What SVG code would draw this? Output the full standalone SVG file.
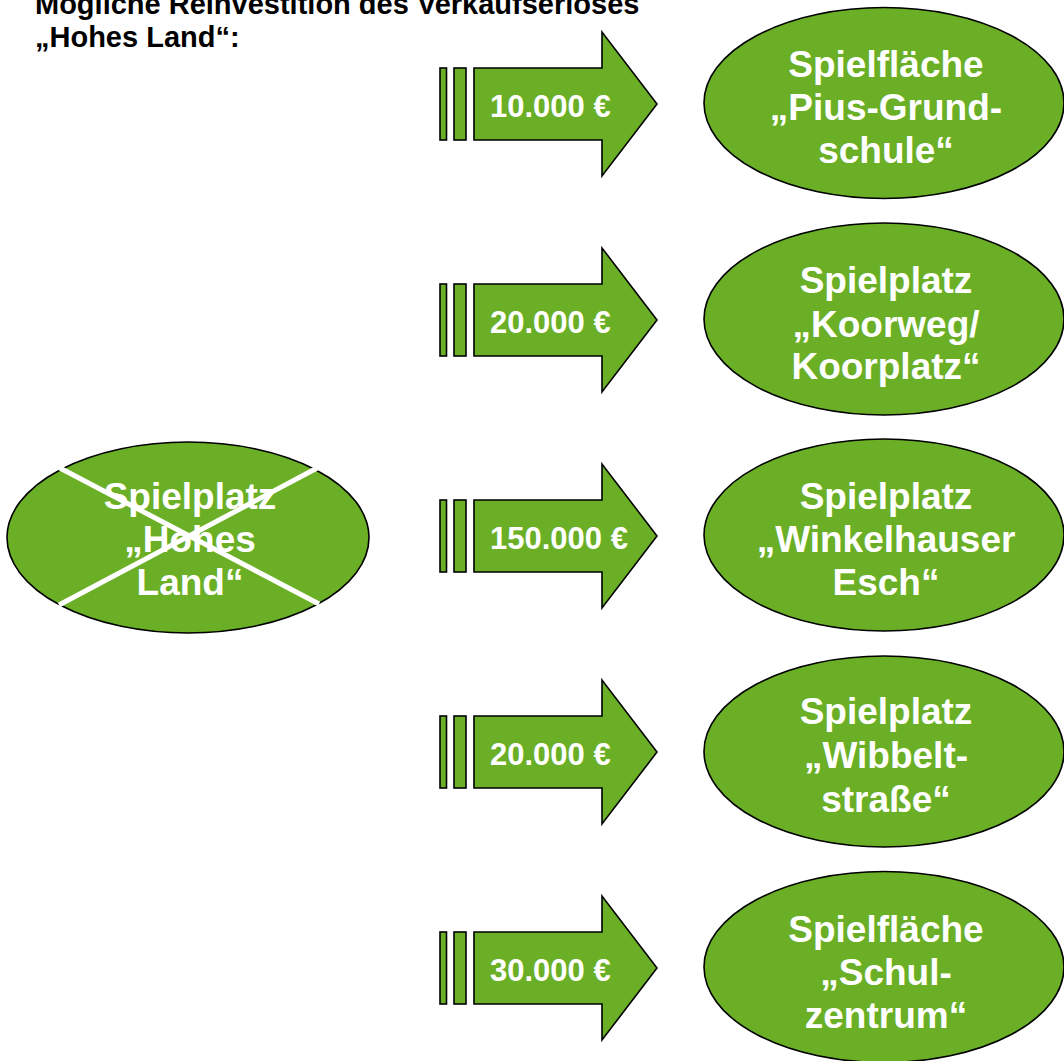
<svg xmlns="http://www.w3.org/2000/svg" width="1064" height="1061" viewBox="0 0 1064 1061">
<style>
.shape{fill:#6aaf25;stroke:#000;stroke-width:1.6}
.lbl{font-family:"Liberation Sans",Arial,sans-serif;font-weight:bold;fill:#fff;font-size:37px;text-anchor:middle}
.amt{font-family:"Liberation Sans",Arial,sans-serif;font-weight:bold;fill:#fff;font-size:31px}
.title{font-family:"Liberation Sans",Arial,sans-serif;font-weight:bold;fill:#000;font-size:29px}
.cross{stroke:#fff;stroke-width:5;fill:none}
</style>
<defs>
<g id="arrow">
<rect class="shape" x="440" y="-36" width="6.5" height="72"/>
<rect class="shape" x="454" y="-36" width="12" height="72"/>
<path class="shape" d="M474,-36 H602 V-72 L657,0 L602,72 V36 H474 Z"/>
</g>
</defs>
<rect width="1064" height="1061" fill="#fff"/>
<g id="title">
<text class="title" x="35" y="14">Mögliche Reinvestition des Verkaufserlöses</text>
<text class="title" x="35" y="47">„Hohes Land“:</text>
</g>
<g id="connectors">
<g id="arrow1" transform="translate(0,104)"><use href="#arrow"/><text class="amt" x="490" y="13">10.000 €</text></g>
<g id="arrow2" transform="translate(0,320)"><use href="#arrow"/><text class="amt" x="490" y="13">20.000 €</text></g>
<g id="arrow3" transform="translate(0,536)"><use href="#arrow"/><text class="amt" x="490" y="13">150.000 €</text></g>
<g id="arrow4" transform="translate(0,752)"><use href="#arrow"/><text class="amt" x="490" y="13">20.000 €</text></g>
<g id="arrow5" transform="translate(0,968)"><use href="#arrow"/><text class="amt" x="490" y="13">30.000 €</text></g>
</g>
<g id="hohes-land">
<ellipse class="shape" cx="188" cy="537.5" rx="181" ry="95.5"/>
<text class="lbl" x="190" y="509">Spielplatz</text>
<text class="lbl" x="190" y="552">„Hohes</text>
<text class="lbl" x="190" y="595">Land“</text>
<line class="cross" x1="58" y1="467" x2="319" y2="604"/>
<line class="cross" x1="319" y1="467" x2="59" y2="605"/>
</g>
<g id="pius">
<ellipse class="shape" cx="884" cy="103" rx="180" ry="95.5"/>
<text class="lbl" x="886" y="77">Spielfläche</text>
<text class="lbl" x="886" y="120">„Pius-Grund-</text>
<text class="lbl" x="886" y="163">schule“</text>
</g>
<g id="koorweg">
<ellipse class="shape" cx="884" cy="319" rx="180" ry="96"/>
<text class="lbl" x="886" y="293">Spielplatz</text>
<text class="lbl" x="886" y="337">„Koorweg/</text>
<text class="lbl" x="886" y="379">Koorplatz“</text>
</g>
<g id="winkelhauser">
<ellipse class="shape" cx="884" cy="535" rx="180" ry="96"/>
<text class="lbl" x="886" y="509">Spielplatz</text>
<text class="lbl" x="886" y="552">„Winkelhauser</text>
<text class="lbl" x="886" y="595">Esch“</text>
</g>
<g id="wibbelt">
<ellipse class="shape" cx="884" cy="751.5" rx="180" ry="95.5"/>
<text class="lbl" x="886" y="724">Spielplatz</text>
<text class="lbl" x="886" y="768">„Wibbelt-</text>
<text class="lbl" x="886" y="812">straße“</text>
</g>
<g id="schulzentrum">
<ellipse class="shape" cx="884" cy="967" rx="180" ry="95.5"/>
<text class="lbl" x="886" y="942">Spielfläche</text>
<text class="lbl" x="886" y="985">„Schul-</text>
<text class="lbl" x="886" y="1028">zentrum“</text>
</g>
</svg>
